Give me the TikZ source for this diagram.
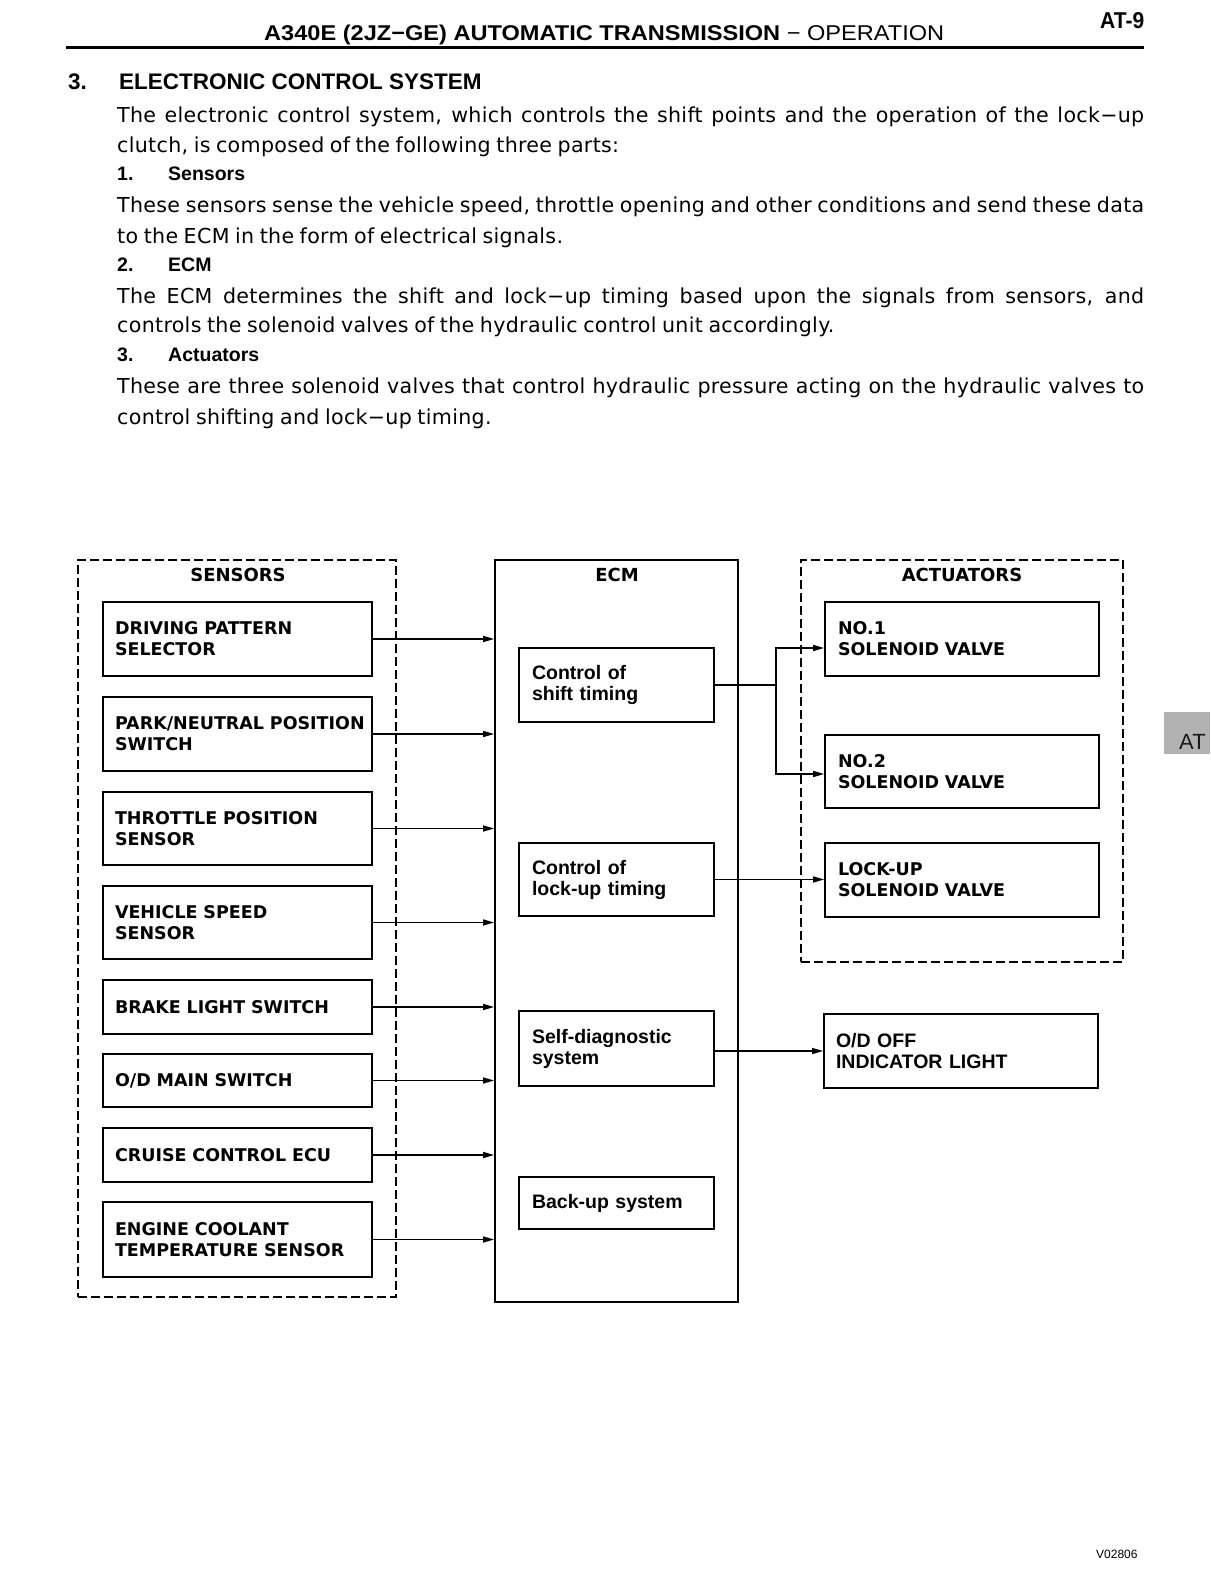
\documentclass[tikz,border=0pt]{standalone}
\usepackage{fontspec}
\usepackage{graphicx}
\setmainfont{DejaVu Sans}
\newfontfamily\bodyfont[LetterSpace=1.5]{DejaVu Sans}
\newfontfamily\helv{Liberation Sans}
\newfontfamily\widefont{DejaVu Sans}
\usetikzlibrary{arrows.meta}
\tikzset{
  txt/.style={anchor=base west, inner sep=0pt},
  bodytxt/.style={txt, font={\bodyfont\fontsize{20.6pt}{24pt}\selectfont\spaceskip=0.27em plus 0.3em minus 0.05em\relax}},
  itemtxt/.style={txt, font={\helv\bfseries\fontsize{19.5pt}{23pt}\selectfont}},
  box/.style={draw, line width=1.8pt, inner ysep=0pt, align=left, anchor=center},
  sbox/.style={box, inner xsep=12pt, minimum width=269pt, text width=245pt,
     font={\widefont\bfseries\fontsize{17.5pt}{21pt}\selectfont\hyphenpenalty=10000}},
  abox/.style={box, inner xsep=13pt, minimum width=274pt, text width=248pt,
     font={\widefont\bfseries\fontsize{17.5pt}{21pt}\selectfont\hyphenpenalty=10000}},
  ebox/.style={box, inner xsep=13pt, minimum width=195pt, text width=169pt,
     font={\helv\bfseries\fontsize{19.5pt}{21pt}\selectfont\hyphenpenalty=10000}},
  grp/.style={draw, line width=1.3pt, dash pattern=on 9pt off 4pt, inner sep=0pt},
  grplabel/.style={font={\widefont\bfseries\fontsize{18pt}{21pt}\selectfont}, inner sep=0pt},
  conn/.style={line width=1.5pt, -{Triangle[length=11pt,width=6pt]}},
  wire/.style={line width=1.5pt},
}
\begin{document}
\begin{tikzpicture}[x=1pt,y=-1pt]
\useasboundingbox (0,0) rectangle (1210,1594);
\fill[white] (0,0) rectangle (1210,1594);

% header
\node[txt] (hdr) at (264,41) {\resizebox{680pt}{15.5pt}{\helv\bfseries A340E (2JZ−GE) AUTOMATIC TRANSMISSION \mdseries − OPERATION}};
\node[txt] (pg) at (1100,28.5) {\resizebox{44pt}{16pt}{\helv\bfseries AT-9}};
\draw[line width=3pt] (66,48) -- (1144,48);

% text
\node[txt, font={\helv\bfseries\fontsize{22.5pt}{26pt}\selectfont}] (hnum) at (68,90) {3.};
\node[txt, font={\helv\bfseries\fontsize{22.5pt}{26pt}\selectfont}] (htitle) at (119,90) {ELECTRONIC CONTROL SYSTEM};
\node[bodytxt] (l1) at (117,122.7) {\makebox[1027pt][s]{The electronic control system, which controls the shift points and the operation of the lock−up}};
\node[bodytxt] (l2) at (117,152.2) {clutch, is composed of the following three parts:};
\node[itemtxt] (n1) at (117,181) {1.};
\node[itemtxt] (i1) at (168,181) {Sensors};
\node[bodytxt] (l3) at (117,212.7) {\makebox[1027pt][s]{These sensors sense the vehicle speed, throttle opening and other conditions and send these data}};
\node[bodytxt] (l4) at (117,243.2) {to the ECM in the form of electrical signals.};
\node[itemtxt] (n2) at (117,272) {2.};
\node[itemtxt] (i2) at (168,272) {ECM};
\node[bodytxt] (l5) at (117,303.7) {\makebox[1027pt][s]{The ECM determines the shift and lock−up timing based upon the signals from sensors, and}};
\node[bodytxt] (l6) at (117,332.7) {controls the solenoid valves of the hydraulic control unit accordingly.};
\node[itemtxt] (n3) at (117,361) {3.};
\node[itemtxt] (i3) at (168,361) {Actuators};
\node[bodytxt] (l7) at (117,393.7) {\makebox[1027pt][s]{These are three solenoid valves that control hydraulic pressure acting on the hydraulic valves to}};
\node[bodytxt] (l8) at (117,424.2) {control shifting and lock−up timing.};

% groups
\node[grp, minimum width=318pt, minimum height=737pt] (sens) at (237,928.5) {};
\node[draw, line width=1.8pt, inner sep=0pt, minimum width=243pt, minimum height=742pt] (ecm) at (616.5,931) {};
\node[grp, minimum width=322pt, minimum height=402pt] (act) at (962,761) {};
\node[grplabel] (sensl) at (238,575) {SENSORS};
\node[grplabel] (ecml) at (617,575) {ECM};
\node[grplabel] (actl) at (962,575) {ACTUATORS};

% sensors
\node[sbox, minimum height=74pt] (s1) at (237.5,639) {DRIVING PATTERN\\SELECTOR};
\node[sbox, minimum height=74pt] (s2) at (237.5,734) {\mbox{PARK/NEUTRAL POSITION}\\SWITCH};
\node[sbox, minimum height=73pt] (s3) at (237.5,828.5) {THROTTLE POSITION\\SENSOR};
\node[sbox, minimum height=73pt] (s4) at (237.5,922.5) {VEHICLE SPEED\\SENSOR};
\node[sbox, minimum height=54pt] (s5) at (237.5,1007) {BRAKE LIGHT SWITCH};
\node[sbox, minimum height=53pt] (s6) at (237.5,1080.5) {O/D MAIN SWITCH};
\node[sbox, minimum height=54pt] (s7) at (237.5,1155) {CRUISE CONTROL ECU};
\node[sbox, minimum height=75pt] (s8) at (237.5,1239.5) {ENGINE COOLANT\\TEMPERATURE SENSOR};

% ECM parts
\node[ebox, minimum height=74pt] (shift) at (616.5,685) {Control of\\shift timing};
\node[ebox, minimum height=73pt] (lockc) at (616.5,879.5) {Control of\\lock-up timing};
\node[ebox, minimum height=75pt] (diag) at (616.5,1048.5) {Self-diagnostic\\system};
\node[ebox, minimum height=52pt] (backup) at (616.5,1203) {Back-up system};

% actuators
\node[abox, minimum height=74pt] (no1) at (962,639) {NO.1\\SOLENOID VALVE};
\node[abox, minimum height=73pt] (no2) at (962,771.5) {NO.2\\SOLENOID VALVE};
\node[abox, minimum height=74pt] (lu) at (962,880) {LOCK-UP\\SOLENOID VALVE};
\node[box, inner xsep=12pt, minimum width=274pt, text width=250pt, minimum height=74pt,
  font={\helv\bfseries\fontsize{19.5pt}{21pt}\selectfont}] (od) at (961,1051) {O/D OFF\\INDICATOR LIGHT};

% connectors
\foreach \s in {s1,s2,s3,s4,s5,s6,s7,s8}{
  \draw[conn] (\s.east) -- (\s.east -| ecm.west);
}
\coordinate (br) at (776,685);
\draw[wire] (shift.east) -- (br);
\draw[conn] (br) |- ([yshift=-9pt]no1.west);
\draw[conn] (br) |- ([yshift=-2.5pt]no2.west);
\draw[conn] (lockc.east) -- (lockc.east -| lu.west);
\draw[conn] ([yshift=-2.5pt]diag.east) -- ([yshift=-2.5pt]diag.east -| od.west);

% side tab
\begin{scope}
\clip (1164,712) rectangle (1210,754);
\fill[gray!60] (1164,712) rectangle (1210,754);
\node[txt, text=black!90, font={\helv\fontsize{22pt}{24pt}\selectfont}] (tab) at (1179,749) {AT};
\end{scope}

\node[txt, font={\helv\fontsize{12pt}{14pt}\selectfont}] (code) at (1096,1558) {V02806};
\end{tikzpicture}
\end{document}
